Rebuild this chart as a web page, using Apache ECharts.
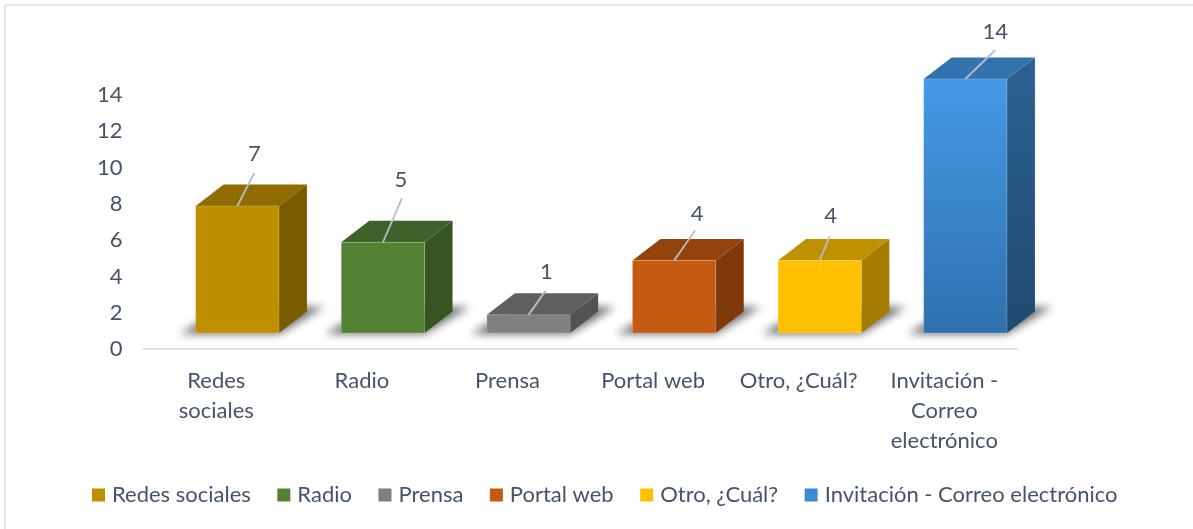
<!DOCTYPE html>
<html><head><meta charset="utf-8">
<style>html,body{margin:0;padding:0;background:#fff}#c{width:1193px;height:529px}</style>
<script src="https://cdn.jsdelivr.net/npm/echarts@6/dist/echarts.min.js"></script>
</head><body><div id="c"></div>
<script>
const categories = ['Redes sociales','Radio','Prensa','Portal web','Otro, ¿Cuál?','Invitación - Correo electrónico'];
const tickLabels = ['Redes\nsociales','Radio','Prensa','Portal web','Otro, ¿Cuál?','Invitación -\nCorreo\nelectrónico'];
const values = [7,5,1,4,4,14];
const yTicks = {min:0,max:14,interval:2};
// style tables, one per category
const frontTop    = ['#BF8F00','#548235','#7F7F7F','#C55A11','#FFC000','#4599E6'];
const frontBottom = ['#BF8F00','#548235','#7F7F7F','#C55A11','#FFC000','#2F71AE'];
const topFace     = ['#8F6B00','#3F622A','#5F5F5F','#94430D','#BF9000','#3373AD'];
const sideTop     = ['#7A5C00','#375523','#525252','#80390B','#A67C00','#2C6293'];
const sideBottom  = ['#7A5C00','#375523','#525252','#80390B','#A67C00','#1F4A70'];
const legendColor = ['#BF8F00','#548235','#7F7F7F','#C55A11','#FFC000','#3E8AD0'];
// leader lines: [from dx, from dy, to dx, to dy] relative to the front-top centre; label dx,dy
const leaders = [[0,0,17,-33,17,-52],[0,0,19,-44,18,-62],[0,0,17,-24,18,-43],[0,0,21,-30,23,-47],[0,0,10,-24,11,-45],[0,0,30,-29,30,-47]];
const TEXT='#44546A', FONT='Lato';
const DX=21, DY=-16, DEPTHX=28, DEPTHY=21.5;

function renderBar(idx){
  return function(params, api){
    const cat=api.value(0), val=api.value(1);
    const p0=api.coord([cat,0]), p1=api.coord([cat,val]);
    const w=api.size([1,0])[0]*0.572;
    const cx=p0[0]+DX, l=cx-w/2, r=cx+w/2, b=p0[1]+DY, t=p1[1]+DY;
    const L=leaders[idx];
    const OFF=3000;
    const poly=(pts,fill)=>({type:'polygon',shape:{points:pts},style:{fill:fill}});
    const vg=(a,c)=>new echarts.graphic.LinearGradient(0,0,0,1,[{offset:0,color:a},{offset:1,color:c}]);
    return {type:'group',children:[
      {type:'polygon',shape:{points:[[l-16-OFF,b+1],[r-OFF,b+1],[r+45-OFF,b-26],[l+30-OFF,b-26]]},
       style:{fill:'#000',shadowBlur:8,shadowOffsetX:OFF,shadowColor:'rgba(60,60,60,0.75)'}},
      poly([[r,b],[r+DEPTHX,b-DEPTHY],[r+DEPTHX,t-DEPTHY],[r,t]],vg(sideTop[idx],sideBottom[idx])),
      poly([[l,t],[l+DEPTHX,t-DEPTHY],[r+DEPTHX,t-DEPTHY],[r,t]],topFace[idx]),
      {type:'rect',shape:{x:l,y:t,width:w,height:b-t},style:{fill:vg(frontTop[idx],frontBottom[idx]),stroke:'rgba(255,255,255,0.2)',lineWidth:1}},
      {type:'line',shape:{x1:cx+L[0],y1:t+L[1],x2:cx+L[2],y2:t+L[3]},style:{stroke:'#B4BECC',lineWidth:1.8}},
      {type:'text',style:{x:cx+L[4],y:t+L[5],text:String(val),fill:TEXT,font:'22px '+FONT,align:'center',verticalAlign:'middle'}}
    ]};
  };
}
const chart=echarts.init(document.getElementById('c'),null,{renderer:'canvas'});
chart.setOption({
  animation:false,
  backgroundColor:'#fff',
  graphic:[
    {type:'line',shape:{x1:5,y1:5,x2:1193,y2:5},style:{stroke:'#E3E6EC',lineWidth:2},silent:true},
    {type:'line',shape:{x1:5,y1:5,x2:5,y2:529},style:{stroke:'#E3E6EC',lineWidth:2},silent:true}
  ],
  grid:{left:143.5,right:175.9,top:95,height:254,containLabel:false},
  xAxis:{type:'category',data:categories,
    axisLine:{lineStyle:{color:'#DDE1E8',width:2}},axisTick:{show:false},
    axisLabel:{color:TEXT,fontFamily:FONT,fontSize:22,lineHeight:30,margin:17,interval:0,
      formatter:(v,i)=>tickLabels[i]}},
  yAxis:{type:'value',min:yTicks.min,max:yTicks.max,interval:yTicks.interval,
    axisLine:{show:false},axisTick:{show:false},splitLine:{show:false},
    axisLabel:{color:TEXT,fontFamily:FONT,fontSize:22,margin:21}},
  legend:{left:87,top:479,icon:'rect',itemWidth:13,itemHeight:13,itemGap:26.5,
    textStyle:{color:TEXT,fontFamily:FONT,fontSize:22,padding:[0,0,0,2]},
    data:categories},
  series:categories.map((name,i)=>({
    type:'custom',name:name,clip:false,
    coordinateSystem:'cartesian2d',
    itemStyle:{color:legendColor[i]},
    encode:{x:0,y:1},
    renderItem:renderBar(i),
    data:[[i,values[i]]]
  }))
});
</script></body></html>
